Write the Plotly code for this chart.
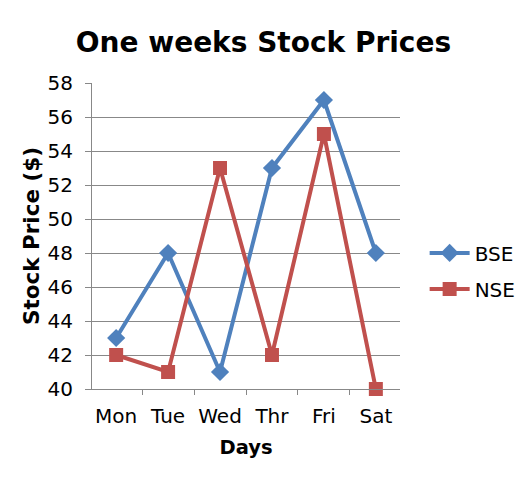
import plotly.graph_objects as go

days = ["Mon", "Tue", "Wed", "Thr", "Fri", "Sat"]
bse = [43, 48, 41, 53, 57, 48]
nse = [42, 41, 53, 42, 55, 40]
y_ticks = list(range(40, 59, 2))

font_family = "DejaVu Sans, Verdana, sans-serif"

fig = go.Figure()
fig.add_trace(go.Scatter(x=days, y=bse, name="BSE", mode="lines+markers",
                         legendgroup="a", cliponaxis=False,
                         line=dict(color="#4F81BD", width=4),
                         marker=dict(symbol="diamond", size=14, color="#4F81BD")))
fig.add_trace(go.Scatter(x=days, y=nse, name="NSE", mode="lines+markers",
                         legendgroup="b", cliponaxis=False,
                         line=dict(color="#C0504D", width=4),
                         marker=dict(symbol="square", size=14, color="#C0504D")))

fig.update_layout(
    width=530, height=491,
    margin=dict(l=84, r=138, t=75, b=110, autoexpand=False),
    paper_bgcolor="white", plot_bgcolor="white",
    font=dict(family=font_family, size=20, color="black"),
    title=dict(text="<b>One weeks Stock Prices</b>", x=0.482, xanchor="center",
               xref="container", y=1 - 34 / 491, yref="container", yanchor="middle",
               font=dict(size=28, color="black")),
    xaxis=dict(title=dict(text="<b>Days</b>", font=dict(size=19.5), standoff=13),
               automargin=False, tickangle=0,
               showline=True, linecolor="#888888", linewidth=1,
               ticks="outside", tickson="boundaries", ticklen=5, tickcolor="#888888",
               showgrid=False, tickfont=dict(size=20), ticklabelstandoff=9),
    yaxis=dict(title=dict(text="<b>Stock Price ($)</b>", font=dict(size=21.5), standoff=2),
               automargin=False,
               range=[40, 58], tickvals=y_ticks, showline=True, linecolor="#888888",
               linewidth=1, ticks="outside", ticklen=6, tickcolor="#888888",
               showgrid=True, gridcolor="#888888", gridwidth=1, zeroline=False,
               tickfont=dict(size=20), ticklabelstandoff=8),
    legend=dict(x=1.08, y=0.386, xanchor="left", yanchor="middle",
                traceorder="grouped",
                font=dict(size=20), tracegroupgap=7, itemwidth=40),
)
fig.write_html("out.html")
